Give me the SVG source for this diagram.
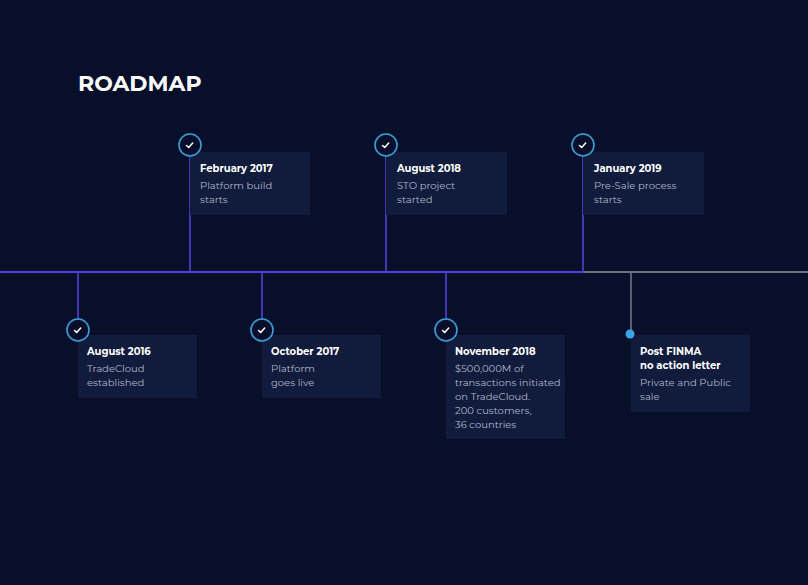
<svg xmlns="http://www.w3.org/2000/svg" width="808" height="585" viewBox="0 0 808 585">
<style>
text{font-family:Montserrat,"Noto Sans","Liberation Sans",sans-serif}
.card{fill:#111b3b}
.t{fill:#fff;font-size:10px;font-weight:bold}
.d{fill:#aeb6cc;font-size:10px}
.ring{fill:#070f2b;stroke:#3a9fd6;stroke-width:1.6}
.chk{fill:none;stroke:#fff;stroke-width:1.5;stroke-linecap:round;stroke-linejoin:round}
.v{stroke:#5440d6;stroke-width:1.6}
</style>
<rect width="808" height="585" fill="#070f2b"/>
<text x="78" y="91" fill="#fff" font-size="22" font-weight="bold">ROADMAP</text>
<g id="connectors">
<line x1="0" y1="272" x2="584" y2="272" stroke="#5440d6" stroke-width="2"/>
<line x1="584" y1="272" x2="808" y2="272" stroke="#6b7487" stroke-width="2"/>
<line class="v" x1="190" y1="156" x2="190" y2="272"/>
<line class="v" x1="386" y1="156" x2="386" y2="272"/>
<line class="v" x1="583" y1="156" x2="583" y2="272"/>
<line class="v" x1="78" y1="272" x2="78" y2="319"/>
<line class="v" x1="262" y1="272" x2="262" y2="319"/>
<line class="v" x1="446" y1="272" x2="446" y2="319"/>
<line x1="631" y1="272" x2="631" y2="334" stroke="#6b7487" stroke-width="1.6"/>
</g>
<g id="n1"><rect class="card" x="190" y="152" width="120" height="63"/><circle class="ring" cx="190" cy="145" r="11"/><path class="chk" d="M186.5 145.5l2.2 2 4-4.5"/><text class="t" x="200" y="172">February 2017</text><text class="d" x="200" y="189">Platform build</text><text class="d" x="200" y="203">starts</text></g>
<g id="n2"><rect class="card" x="386" y="152" width="121" height="63"/><circle class="ring" cx="386" cy="145" r="11"/><path class="chk" d="M382.5 145.5l2.2 2 4-4.5"/><text class="t" x="397" y="172">August 2018</text><text class="d" x="397" y="189">STO project</text><text class="d" x="397" y="203">started</text></g>
<g id="n3"><rect class="card" x="583" y="152" width="121" height="63"/><circle class="ring" cx="583" cy="145" r="11"/><path class="chk" d="M579.5 145.5l2.2 2 4-4.5"/><text class="t" x="594" y="172">January 2019</text><text class="d" x="594" y="189">Pre-Sale process</text><text class="d" x="594" y="203">starts</text></g>
<g id="n4"><rect class="card" x="78" y="335" width="119" height="63"/><circle class="ring" cx="78" cy="330" r="11"/><path class="chk" d="M74.5 330.5l2.2 2 4-4.5"/><text class="t" x="87" y="355">August 2016</text><text class="d" x="87" y="372">TradeCloud</text><text class="d" x="87" y="386">established</text></g>
<g id="n5"><rect class="card" x="262" y="335" width="119" height="63"/><circle class="ring" cx="262" cy="330" r="11"/><path class="chk" d="M258.5 330.5l2.2 2 4-4.5"/><text class="t" x="271" y="355">October 2017</text><text class="d" x="271" y="372">Platform</text><text class="d" x="271" y="386">goes live</text></g>
<g id="n6"><rect class="card" x="446" y="335" width="119" height="104"/><circle class="ring" cx="446" cy="330" r="11"/><path class="chk" d="M442.5 330.5l2.2 2 4-4.5"/><text class="t" x="455" y="355">November 2018</text><text class="d" x="455" y="372">$500,000M of</text><text class="d" x="455" y="386">transactions initiated</text><text class="d" x="455" y="400">on TradeCloud.</text><text class="d" x="455" y="414">200 customers,</text><text class="d" x="455" y="428">36 countries</text></g>
<g id="n7"><rect class="card" x="631" y="335" width="119" height="77"/><circle cx="630" cy="334" r="4.5" fill="#3aa6e8"/><text class="t" x="640" y="355">Post FINMA</text><text class="t" x="640" y="369">no action letter</text><text class="d" x="640" y="386">Private and Public</text><text class="d" x="640" y="400">sale</text></g>
</svg>
